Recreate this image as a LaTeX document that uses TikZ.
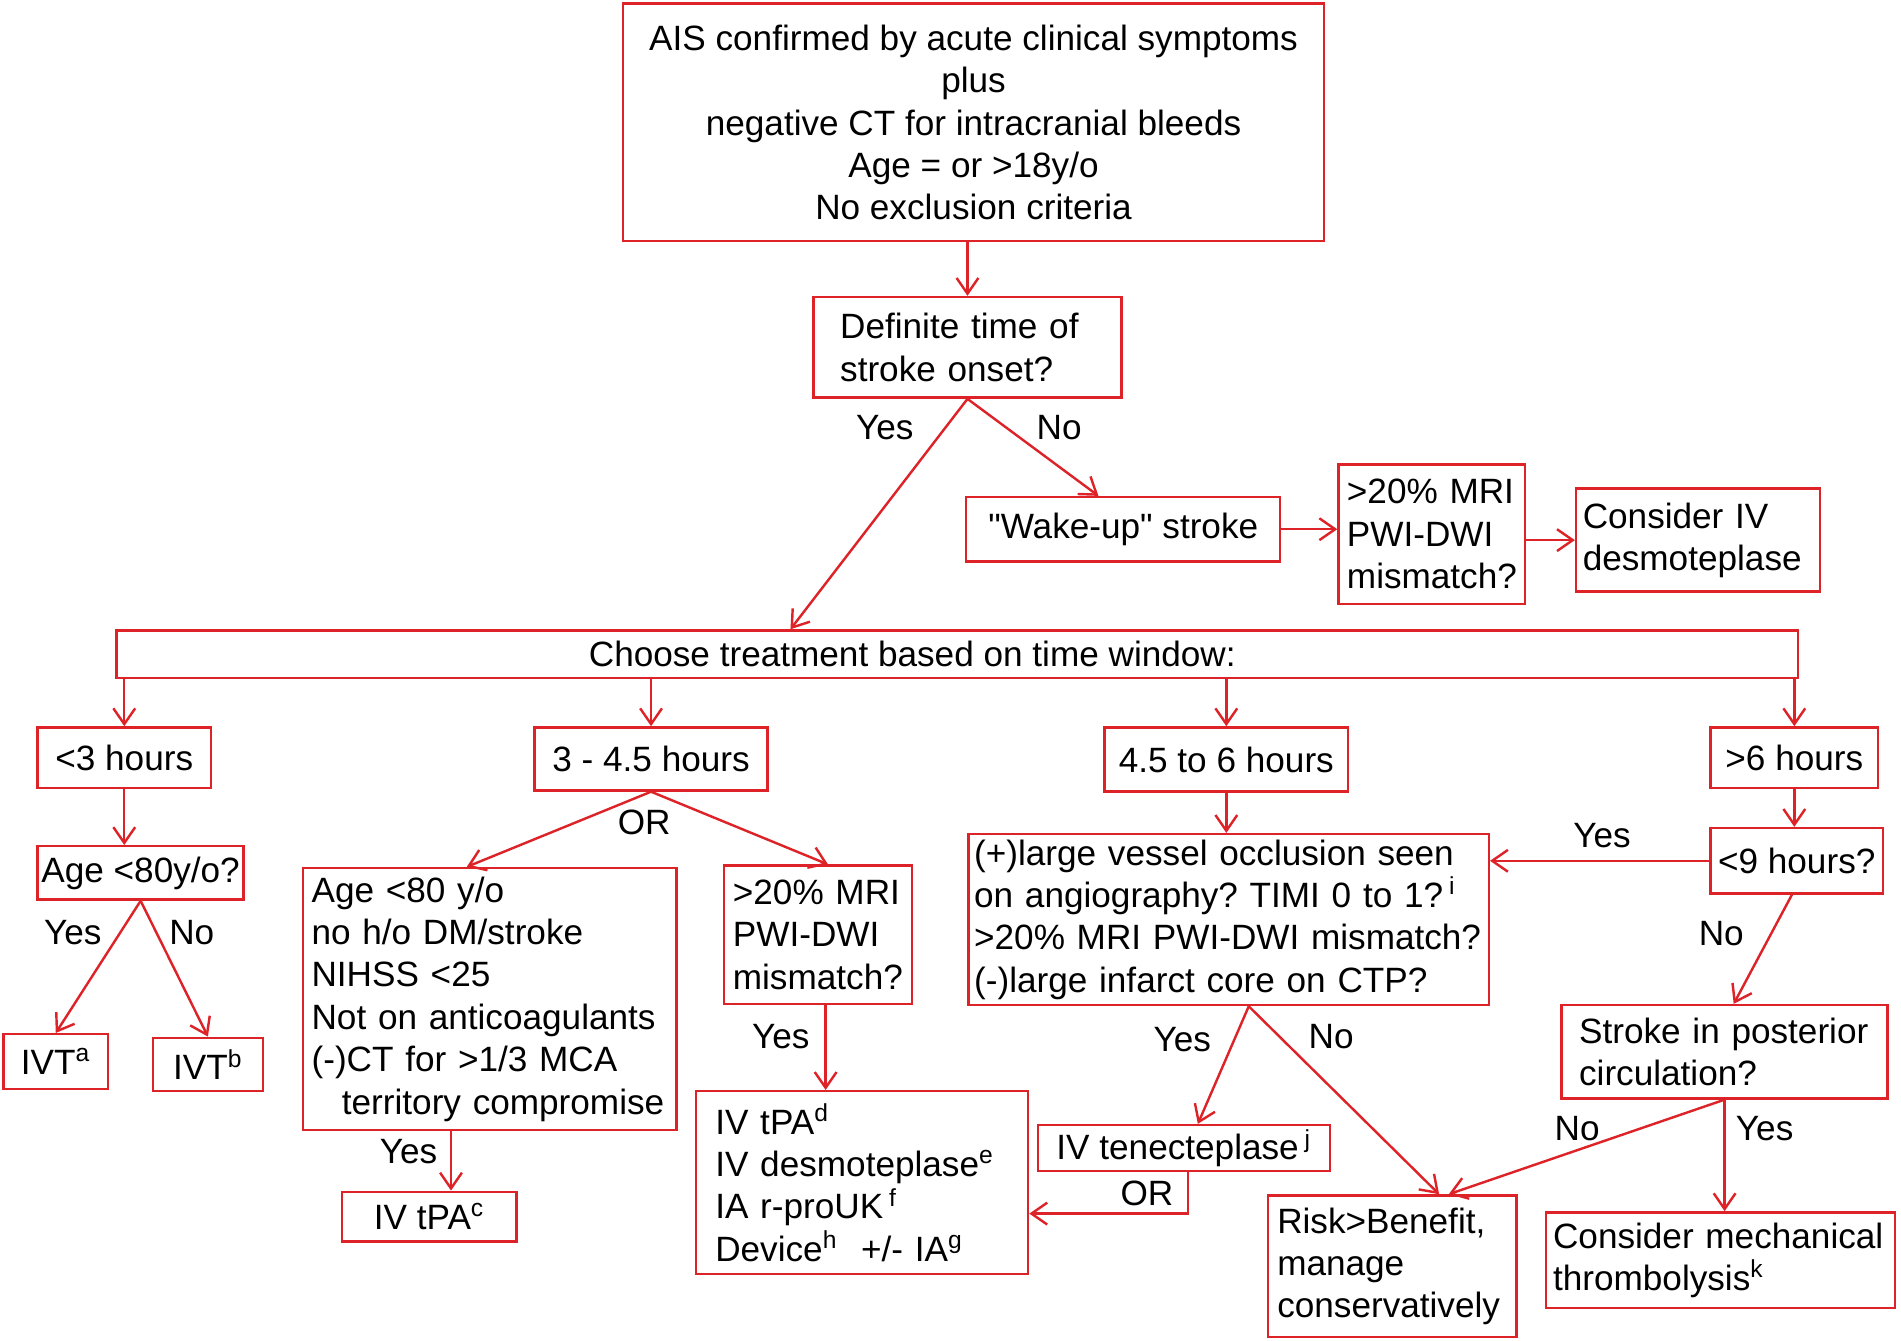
\documentclass[tikz,border=0pt]{standalone}
\usepackage{fontspec}
\setmainfont{Liberation Sans}
\usetikzlibrary{arrows.meta, calc}
\definecolor{ared}{RGB}{221,35,40}
\frenchspacing
\newcommand{\sq}{\XeTeXglyph\XeTeXcharglyph"22\relax}

\begin{document}
\begin{tikzpicture}[x=0.5pt, y=-0.5pt, >={Straight Barb[length=6.5pt,width=9pt]},
    box/.style={draw=ared, line width=1pt, inner sep=0pt, align=center, font=\fontsize{14.5}{17.5}\selectfont},
    lbox/.style={box, align=left},
    lbl/.style={font=\fontsize{14.5}{17.5}\selectfont, inner sep=0pt},
    line/.style={draw=ared, line width=1pt, ->}]

        \useasboundingbox (0,0) rectangle (1568,1105.3);

        % entry and onset
        \node[box, minimum width=289pt, minimum height=98pt] (AIS) at (803,101)
            {AIS confirmed by acute clinical symptoms\\plus\\negative CT for intracranial bleeds\\Age = or >18y/o\\No exclusion criteria};
        \node[lbox, text width=105pt, minimum width=127pt, minimum height=41.5pt] (onset) at (798,286.5)
            {Definite time of\\stroke onset?};
        \node[box, minimum width=129.5pt, minimum height=26.5pt] (wake) at (926.5,436.5) {\sq Wake-up\sq{} stroke};
        \node[lbox, text width=70pt, minimum width=77pt, minimum height=57.5pt] (mri1) at (1181,440.5)
            {>20\% MRI\\PWI-DWI\\mismatch?};
        \node[lbox, text width=95pt, minimum width=100.5pt, minimum height=42.5pt] (desmo) at (1400.5,445.5)
            {Consider IV\\desmoteplase};
        \node[box, minimum width=693.5pt, minimum height=19.5pt] (choose) at (789.5,539.5)
            {\hspace*{-37pt}Choose treatment based on time window:};

        % time windows
        \node[box, minimum width=71.5pt, minimum height=25pt] (lt3) at (102.5,625) {<3 hours};
        \node[box, minimum width=96pt, minimum height=26pt] (t345) at (537,626) {3 - 4.5 hours};
        \node[box, minimum width=100.5pt, minimum height=26.5pt] (t456) at (1011.5,626.5) {4.5 to 6 hours};
        \node[box, minimum width=69pt, minimum height=25pt] (gt6) at (1480,625) {>6 hours};

        % under 3 hours
        \node[box, minimum width=85pt, minimum height=22pt] (age80) at (116,720) {Age <80y/o?};
        \node[box, minimum width=43pt, minimum height=22.5pt] (ivta) at (46,875.5) {IVT\textsuperscript{a}};
        \node[box, minimum width=45.5pt, minimum height=22pt] (ivtb) at (171.5,878) {IVT\textsuperscript{b}};

        % 3 to 4.5 hours
        \node[lbox, text width=147pt, minimum width=154pt, minimum height=108pt] (crit) at (404,824)
            {Age <80 y/o\\no h/o DM/stroke\\NIHSS <25\\Not on anticoagulants\\(-)CT for >1/3 MCA\\\hspace*{12.5pt}territory compromise};
        \node[lbox, text width=70pt, minimum width=77.5pt, minimum height=57pt] (mri2) at (674.5,771)
            {>20\% MRI\\PWI-DWI\\mismatch?};
        \node[box, minimum width=72pt, minimum height=20.5pt] (tpac) at (354,1003.5) {IV tPA\textsuperscript{c}};
        \node[lbox, text width=121pt, minimum width=137pt, minimum height=75.5pt] (multi) at (711,975.5)
            {IV tPA\textsuperscript{d}\\IV desmoteplase\textsuperscript{e}\\IA r-proUK\,\textsuperscript{f}\\Device\textsuperscript{h}~ +/- IA\textsuperscript{g}};

        % 4.5 to 6 hours and beyond
        \node[lbox, text width=210pt, minimum width=214.5pt, minimum height=70.5pt] (lvo) at (1013.5,758.5)
            {(+)large vessel occlusion seen\\on angiography? TIMI 0 to 1?\,\textsuperscript{i}\\>20\% MRI PWI-DWI mismatch?\\(-)large infarct core on CTP?};
        \node[box, minimum width=71pt, minimum height=27pt] (lt9) at (1482,710) {<9 hours?};
        \node[box, minimum width=120.5pt, minimum height=19pt] (tnk) at (976.5,947) {IV tenecteplase\,\textsuperscript{j}};
        \node[lbox, text width=95pt, minimum width=102.5pt, minimum height=58.5pt] (risk) at (1148.5,1044.5)
            {Risk>Benefit,\\manage\\conservatively};
        \node[lbox, text width=120pt, minimum width=134.5pt, minimum height=38.5pt] (post) at (1422.5,867.5)
            {Stroke in posterior\\circulation?};
        \node[lbox, text width=138pt, minimum width=144pt, minimum height=39.5pt] (mech) at (1419,1039.5)
            {Consider mechanical\\thrombolysis\textsuperscript{k}};

        % connectors
        \draw[line] (onset.north |- AIS.south) -- (onset.north);
        \draw[line] (onset.south) -- ($(choose.north)+(-137.5,0)$) node[lbl, pos=.125, xshift=-25pt] {Yes};
        \draw[line] (onset.south) -- ($(wake.north)+(-20.5,0)$) node[lbl, pos=.293, xshift=22pt] {No};
        \draw[line] (wake.east) -- (wake.east -| mri1.west);
        \draw[line] (desmo.west -| mri1.east) -- (desmo.west);
        \foreach \n in {lt3, t345, t456, gt6}
            \draw[line] (\n.north |- choose.south) -- (\n.north);

        \draw[line] (lt3.south) -- (lt3.south |- age80.north);
        \draw[line] (age80.south) -- (ivta.north) node[lbl, pos=.243, xshift=-19.5pt] {Yes};
        \draw[line] (age80.south) -- (ivtb.north) node[lbl, pos=.237, xshift=14.5pt] {No};

        \draw[line] (t345.south) -- ($(crit.north)+(-19,0)$) node[lbl, pos=.406, xshift=28pt] {OR};
        \draw[line] (t345.south) -- ($(mri2.north)+(8.5,0)$);
        \draw[line] ($(crit.south)+(-32,0)$) -- ($(tpac.north)+(18,0)$) node[lbl, pos=.35, xshift=-17.5pt] {Yes};
        \draw[line] ($(mri2.south)+(6.5,0)$) -- ($(multi.north)+(-30,0)$) node[lbl, pos=.375, xshift=-18.5pt] {Yes};

        \draw[line] (t456.south) -- (t456.south |- lvo.north);
        \draw[line] (gt6.south) -- (gt6.south |- lt9.north);
        \draw[line] (lt9.west) -- (lt9.west -| lvo.east) node[lbl, pos=.49, yshift=10.5pt] {Yes};
        \draw[line] ($(lt9.south)+(-4,0)$) -- ($(post.north)+(7.5,0)$) node[lbl, pos=.359, xshift=-20.5pt] {No};
        \draw[line] ($(lvo.south)+(16.5,0)$) -- ($(tnk.north)+(11.5,0)$) node[lbl, pos=.283, xshift=-21.5pt] {Yes};
        \draw[line] ($(lvo.south)+(16.5,0)$) -- ($(risk.north)+(38.5,0)$) node[lbl, pos=.159, xshift=21.5pt] {No};
        \draw[line] (post.south) -- ($(risk.north)+(46.5,0)$) node[lbl, pos=.306, xshift=-26pt] {No};
        \draw[line] (post.south) -- (post.south |- mech.north) node[lbl, pos=.255, xshift=16.5pt] {Yes};
        \draw[line] ($(tnk.south)+(3.5,0)$) |- ($(multi.east)+(0,25.5)$) node[lbl, pos=.25, xshift=-17pt] {OR};
\end{tikzpicture}
\end{document}
